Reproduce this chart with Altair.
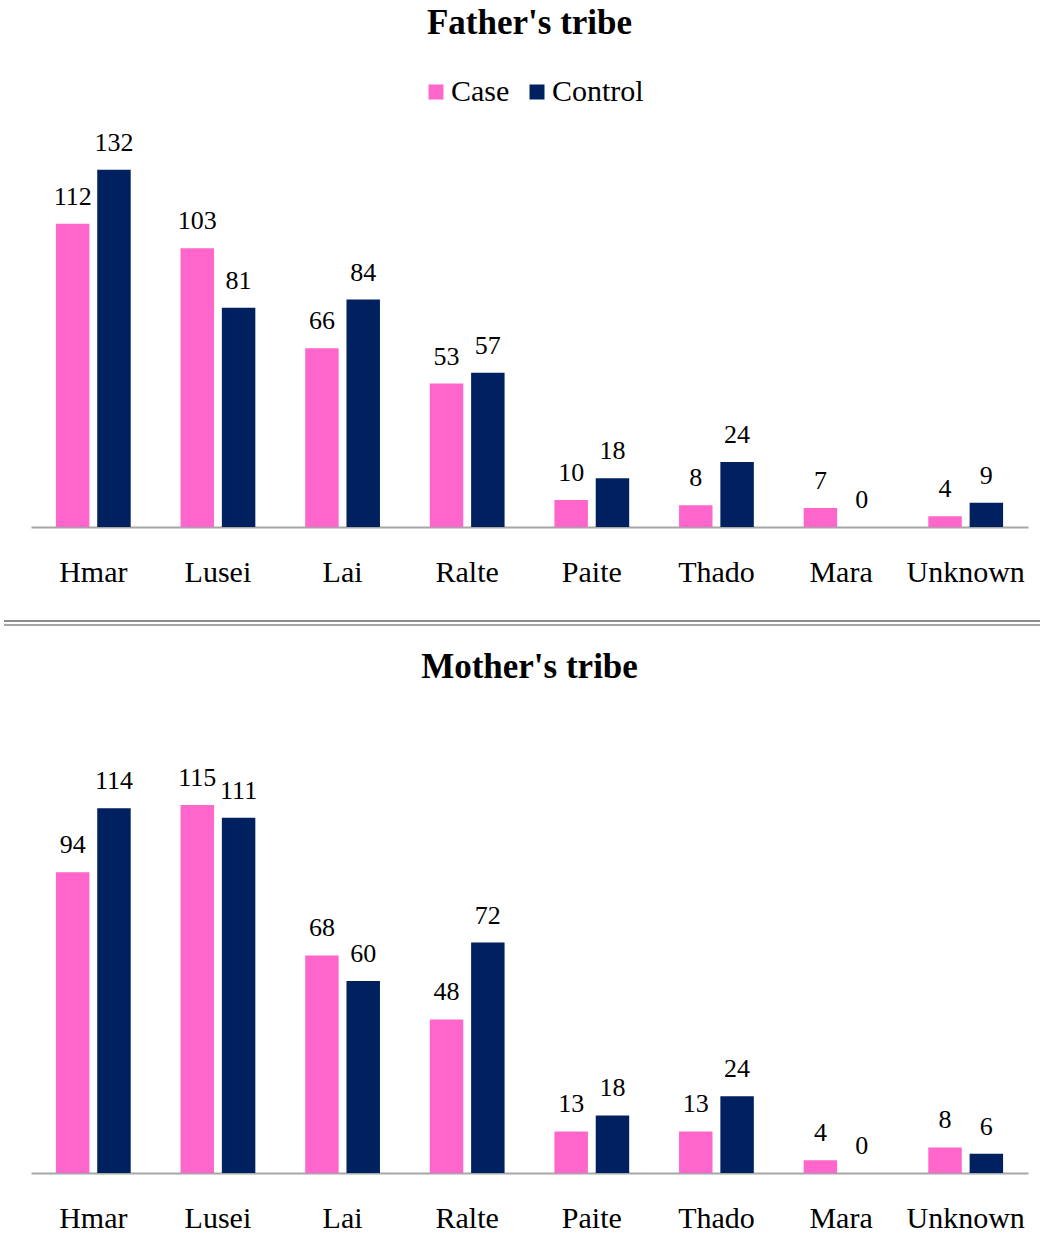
import altair as alt
import pandas as pd

tribes = ["Hmar", "Lusei", "Lai", "Ralte", "Paite", "Thado", "Mara", "Unknown"]
series = ["Case", "Control"]
father_case = [112, 103, 66, 53, 10, 8, 7, 4]
father_control = [132, 81, 84, 57, 18, 24, 0, 9]
mother_case = [94, 115, 68, 48, 13, 13, 4, 8]
mother_control = [114, 111, 60, 72, 18, 24, 0, 6]
colors = ["#FF66CC", "#002060"]

FONT = "Liberation Serif"


def frame(case, control):
    rows = []
    for t, a, b in zip(tribes, case, control):
        rows.append({"tribe": t, "group": "Case", "value": a})
        rows.append({"tribe": t, "group": "Control", "value": b})
    return pd.DataFrame(rows)


def panel(df, title, ymax, height, show_legend, separator, title_offset):
    if show_legend:
        legend = alt.Legend(
            title=None, orient="none", legendX=390, legendY=-71,
            direction="horizontal", symbolType="square", symbolSize=225,
            symbolStrokeWidth=0, labelFontSize=30, labelFont=FONT,
            labelColor="black", columnPadding=12, labelOffset=0, padding=0,
        )
    else:
        legend = None
    base = alt.Chart(df).encode(
        x=alt.X(
            "tribe:N", sort=tribes,
            scale=alt.Scale(paddingInner=0.4, paddingOuter=0.2),
            axis=alt.Axis(
                title=None, labelAngle=0, ticks=False, tickSize=0,
                labelPadding=30, labelFontSize=30, labelFont=FONT,
                labelColor="black", domainColor="#a6a6a6", domainWidth=2,
                grid=False,
            ),
        ),
        xOffset=alt.XOffset(
            "group:N", sort=series,
            scale=alt.Scale(paddingInner=0.19, paddingOuter=0),
        ),
        y=alt.Y("value:Q", scale=alt.Scale(domain=[0, ymax], nice=False), axis=None),
    )
    bars = base.mark_bar().encode(
        color=alt.Color("group:N", sort=series,
                        scale=alt.Scale(domain=series, range=colors),
                        legend=legend)
    )
    labels = base.mark_text(
        baseline="alphabetic", dy=-19, font=FONT, fontSize=26, color="black"
    ).encode(text="value:Q")
    layers = [bars, labels]
    if separator:
        r1 = alt.Chart(df).mark_rule(strokeWidth=2, color="#8c8c8c").encode(
            x=alt.value(-27), x2=alt.value(1009), y=alt.value(height + 94)
        )
        r2 = alt.Chart(df).mark_rule(strokeWidth=2, color="#a6a6a6").encode(
            x=alt.value(-27), x2=alt.value(1009), y=alt.value(height + 98)
        )
        layers += [r1, r2]
    else:
        r0 = alt.Chart(df).mark_rule(strokeWidth=2, opacity=0).encode(
            x=alt.value(-27), x2=alt.value(1009), y=alt.value(height)
        )
        layers += [r0]
    return alt.layer(*layers).properties(
        width=997, height=height,
        title=alt.TitleParams(
            title, font=FONT, fontSize=35, fontWeight="bold",
            anchor="middle", color="black", offset=title_offset,
        ),
    )


top = panel(frame(father_case, father_control), "Father's tribe", 140, 379, True, True, 89)
bottom = panel(frame(mother_case, mother_control), "Mother's tribe", 120, 384, False, False, 80)

chart = alt.vconcat(top, bottom, spacing=24).properties(
    padding={"left": 3, "top": 5, "right": 0, "bottom": 0},
    background="white",
).configure_view(stroke=None)

chart.save("out.html", embed_options={"renderer": "svg", "actions": False})
